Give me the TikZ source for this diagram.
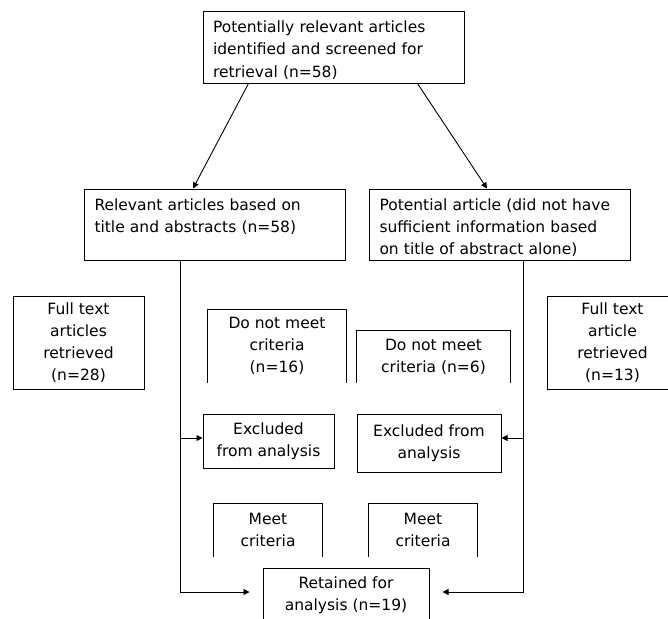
\documentclass[tikz,border=0pt]{standalone}
\usepackage{fontspec}
\setmainfont{DejaVu Sans}
\usetikzlibrary{arrows.meta}

\begin{document}
\begin{tikzpicture}[x=1pt,y=-1pt,
    font=\fontsize{15.5}{22}\selectfont,
    bigbox/.style={draw,line width=1pt,align=left,text width=241pt,inner xsep=10pt,
      inner ysep=9pt,text height=12pt,text depth=41pt},
    smallbox/.style={align=center,inner sep=0pt,line width=1pt},
    arr/.style={-{Triangle[length=6pt,width=6pt]},line width=0.9pt}]
  \useasboundingbox (0,0) rectangle (668,618);
  \clip (0,0) rectangle (668,618);

  % screening
  \node[bigbox] (top) at (333.5,47.5) {Potentially relevant articles\\identified and screened for\\retrieval (n=58)};
  \node[bigbox] (relev) at (215,224.5) {Relevant articles based on\\title and abstracts (n=58)};
  \node[bigbox] (potent) at (500,224.5) {Potential article (did not have\\sufficient information based\\on title of abstract alone)};

  \draw[arr] ([xshift=46pt]top.south west) -- ([xshift=109pt]relev.north west);
  \draw[arr] ([xshift=-47pt]top.south east) -- ([xshift=118pt]potent.north west);

  % full text
  \node[smallbox,draw,minimum width=131pt,minimum height=93pt] (fullL) at (78.5,342.5) {Full text\\articles\\retrieved\\(n=28)};
  \node[smallbox,draw,minimum width=131pt,minimum height=93pt] (fullR) at (612.5,342.5) {Full text\\article\\retrieved\\(n=13)};

  \node[smallbox,minimum width=138pt,minimum height=72pt] (notL) at (277,346) {Do not meet\\criteria\\(n=16)};
  \node[smallbox,minimum width=153pt,minimum height=51pt] (notR) at (433.5,356.5) {Do not meet\\criteria (n=6)};
  \node[smallbox,draw,minimum width=131pt,minimum height=54pt] (exclL) at (268.5,441) {Excluded\\from analysis};
  \node[smallbox,draw,minimum width=144pt,minimum height=58pt] (exclR) at (429,443) {Excluded from\\analysis};
  \node[smallbox,minimum width=108pt,minimum height=52pt] (meetL) at (268,530) {Meet\\criteria};
  \node[smallbox,minimum width=108pt,minimum height=52pt] (meetR) at (423,530) {Meet\\criteria};
  \node[smallbox,draw,minimum width=166pt,minimum height=54pt] (retain) at (346,595) {Retained for\\analysis (n=19)};

  % boxes open at the bottom
  \foreach \n in {notL,notR,meetL,meetR}
    \draw[line width=1pt] (\n.south west) |- (\n.north east) -- (\n.south east);

  % trunks
  \coordinate (lt) at ([xshift=96pt]relev.south west);
  \coordinate (rt) at ([xshift=154pt]potent.south west);
  \coordinate (eL) at ([yshift=3pt]exclL.west);
  \coordinate (eR) at ([yshift=5pt]exclR.east);
  \draw[arr] (lt) |- ([xshift=-13pt,yshift=3pt]retain.west);
  \draw[arr] (rt) |- ([xshift=13pt,yshift=3pt]retain.east);
  \draw[arr] (lt |- eL) -- (eL);
  \draw[arr] (rt |- eR) -- (eR);
\end{tikzpicture}
\end{document}
